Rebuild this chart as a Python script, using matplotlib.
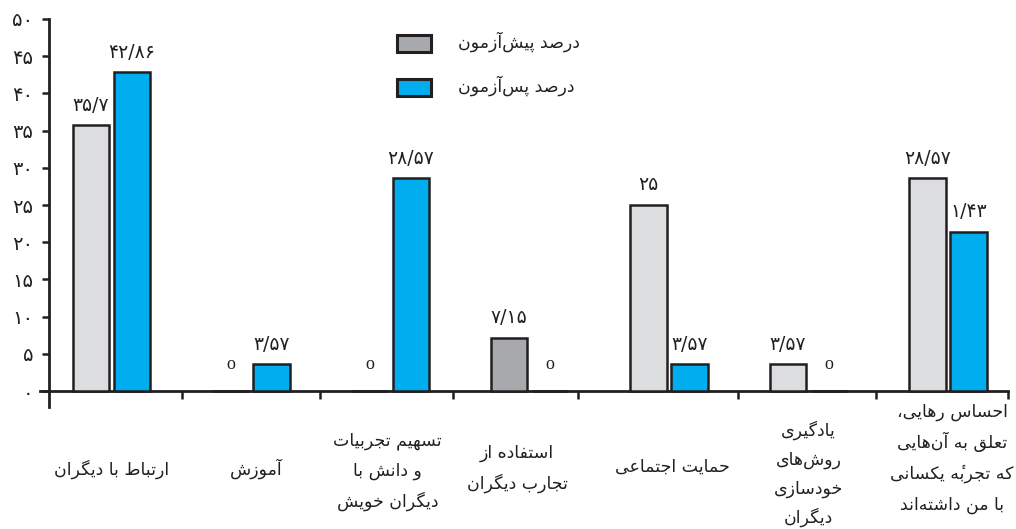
import matplotlib
matplotlib.use("Agg")
import matplotlib.pyplot as plt
from matplotlib.patches import Rectangle
from matplotlib.transforms import blended_transform_factory
import numpy as np

# ---------------- data ----------------
categories = [
    "ارتباط با دیگران",
    "آموزش",
    "تسهیم تجربیات\nو دانش با\nدیگران خویش",
    "استفاده از\nتجارب دیگران",
    "حمایت اجتماعی",
    "یادگیری\nروش‌های\nخودسازی\nدیگران",
    "احساس رهایی،\nتعلق به آن‌هایی\nکه تجربهٔ یکسانی\nبا من داشته‌اند",
]
pre_test = [35.7, 0, 0, 7.15, 25, 3.57, 28.57]
post_test = [42.86, 3.57, 28.57, 0, 3.57, 0, 21.43]
pre_labels = ["۳۵/۷", "o", "o", "۷/۱۵", "۲۵", "۳/۵۷", "۲۸/۵۷"]
post_labels = ["۴۲/۸۶", "۳/۵۷", "۲۸/۵۷", "o", "۳/۵۷", "o", "۱/۴۳"]
y_ticks = [0, 5, 10, 15, 20, 25, 30, 35, 40, 45, 50]
y_tick_labels = ["۰", "۵", "۱۰", "۱۵", "۲۰", "۲۵", "۳۰", "۳۵", "۴۰", "۴۵", "۵۰"]
legend_labels = ["درصد پیش‌آزمون", "درصد پس‌آزمون"]

# ---------------- minimal Persian shaping ----------------
FORMS = {
    "\u0627": ("\uFE8D", "\uFE8E", None, None),
    "\u0622": ("\uFE81", "\uFE82", None, None),
    "\u0628": ("\uFE8F", "\uFE90", "\uFE91", "\uFE92"),
    "\u067E": ("\uFB56", "\uFB57", "\uFB58", "\uFB59"),
    "\u062A": ("\uFE95", "\uFE96", "\uFE97", "\uFE98"),
    "\u062B": ("\uFE99", "\uFE9A", "\uFE9B", "\uFE9C"),
    "\u062C": ("\uFE9D", "\uFE9E", "\uFE9F", "\uFEA0"),
    "\u0686": ("\uFB7A", "\uFB7B", "\uFB7C", "\uFB7D"),
    "\u062D": ("\uFEA1", "\uFEA2", "\uFEA3", "\uFEA4"),
    "\u062E": ("\uFEA5", "\uFEA6", "\uFEA7", "\uFEA8"),
    "\u062F": ("\uFEA9", "\uFEAA", None, None),
    "\u0630": ("\uFEAB", "\uFEAC", None, None),
    "\u0631": ("\uFEAD", "\uFEAE", None, None),
    "\u0632": ("\uFEAF", "\uFEB0", None, None),
    "\u0698": ("\uFB8A", "\uFB8B", None, None),
    "\u0633": ("\uFEB1", "\uFEB2", "\uFEB3", "\uFEB4"),
    "\u0634": ("\uFEB5", "\uFEB6", "\uFEB7", "\uFEB8"),
    "\u0635": ("\uFEB9", "\uFEBA", "\uFEBB", "\uFEBC"),
    "\u0636": ("\uFEBD", "\uFEBE", "\uFEBF", "\uFEC0"),
    "\u0637": ("\uFEC1", "\uFEC2", "\uFEC3", "\uFEC4"),
    "\u0638": ("\uFEC5", "\uFEC6", "\uFEC7", "\uFEC8"),
    "\u0639": ("\uFEC9", "\uFECA", "\uFECB", "\uFECC"),
    "\u063A": ("\uFECD", "\uFECE", "\uFECF", "\uFED0"),
    "\u0641": ("\uFED1", "\uFED2", "\uFED3", "\uFED4"),
    "\u0642": ("\uFED5", "\uFED6", "\uFED7", "\uFED8"),
    "\u06A9": ("\uFB8E", "\uFB8F", "\uFB90", "\uFB91"),
    "\u06AF": ("\uFB92", "\uFB93", "\uFB94", "\uFB95"),
    "\u0644": ("\uFEDD", "\uFEDE", "\uFEDF", "\uFEE0"),
    "\u0645": ("\uFEE1", "\uFEE2", "\uFEE3", "\uFEE4"),
    "\u0646": ("\uFEE5", "\uFEE6", "\uFEE7", "\uFEE8"),
    "\u0647": ("\uFEE9", "\uFEEA", "\uFEEB", "\uFEEC"),
    "\u0648": ("\uFEED", "\uFEEE", None, None),
    "\u06CC": ("\uFBFC", "\uFBFD", "\uFBFE", "\uFBFF"),
    "\u0626": ("\uFE89", "\uFE8A", "\uFE8B", "\uFE8C"),
}
MARKS = {"\u0654"}


def shape(line):
    # group into clusters (base + following marks); ZWNJ breaks joining and is dropped
    seq = []
    for c in line:
        if c in MARKS and seq:
            seq[-1][1] += c
        else:
            seq.append([c, ""])
    n = len(seq)
    clusters = []
    for i, (c, marks) in enumerate(seq):
        if c == "\u200c":
            continue
        if c not in FORMS:
            clusters.append(c + marks)
            continue
        prev = seq[i - 1][0] if i > 0 else None
        nxt = seq[i + 1][0] if i + 1 < n else None
        jp = prev in FORMS and FORMS[prev][2] is not None
        jn = nxt in FORMS and FORMS[c][2] is not None
        iso, fin, ini, med = FORMS[c]
        if jp and jn:
            g = med
        elif jp:
            g = fin
        elif jn:
            g = ini
        else:
            g = iso
        clusters.append(g + marks)
    return "".join(reversed(clusters))


# ---------------- figure ----------------
W, H = 1016, 529
fig = plt.figure(figsize=(W / 100, H / 100), dpi=100)
ax = fig.add_axes([40 / W, (H - 407) / H, 968 / W, 388 / H])

TXT = "#231F20"
GRAY_LIGHT = "#DCDDDF"
GRAY_DARK = "#A7A9AC"
BLUE = "#00AEEF"
FONT = ["DejaVu Sans"]

x = np.arange(len(categories))
bw = 0.262
off = 0.147
pre_colors = [GRAY_LIGHT, GRAY_LIGHT, GRAY_LIGHT, GRAY_DARK, GRAY_LIGHT, GRAY_LIGHT, GRAY_LIGHT]

ax.bar(x - off, pre_test, width=bw, color=pre_colors, edgecolor=TXT, linewidth=1.8, zorder=3)
ax.bar(x + off, post_test, width=bw, color=BLUE, edgecolor=TXT, linewidth=1.8, zorder=3)

for xs, vals, labs in ((x - off, pre_test, pre_labels), (x + off, post_test, post_labels)):
    for xi, v, lab in zip(xs, vals, labs):
        if lab == "o":
            ax.annotate(lab, xy=(xi, v), xytext=(0, 15.8), textcoords="offset points",
                        ha="center", va="baseline", fontsize=13, color=TXT,
                        family="Liberation Serif")
        else:
            ax.annotate(lab, xy=(xi, v), xytext=(0, 10.5), textcoords="offset points",
                        ha="center", va="baseline", fontsize=13.5, color=TXT, family=FONT)

ax.set_xlim(-0.513, 6.431)
ax.set_ylim(-2.15, 50)
for s in ("top", "right"):
    ax.spines[s].set_visible(False)
ax.spines["left"].set_position(("data", -0.448))
ax.spines["bottom"].set_position(("data", 0))
for s in ("left", "bottom"):
    ax.spines[s].set_linewidth(2.0)
    ax.spines[s].set_color(TXT)

ax.set_yticks(y_ticks)
ax.set_yticklabels(y_tick_labels, fontsize=14, color=TXT, family=FONT)
ax.tick_params(axis="y", direction="out", length=5, width=1.8, color=TXT, pad=6.5)
ax.set_xticks([0.506, 1.496, 2.450, 3.346, 4.494, 5.484, 6.431])
ax.set_xticklabels([])
ax.tick_params(axis="x", direction="out", length=5.5, width=1.8, color=TXT)

# category labels
label_dx = [0.0, 0.04, -0.02, -0.09, 0.02, 0.0, 0.03]
first_baseline = [475, 475, 445, 458, 472, 436, 417]
line_gap = [31, 31, 31, 31, 31, 29, 31]
trans = blended_transform_factory(ax.transData, fig.transFigure)
for i, cat in enumerate(categories):
    for j, line in enumerate(cat.split("\n")):
        yb = first_baseline[i] + j * line_gap[i]
        ax.text(x[i] + label_dx[i], 1 - yb / H, shape(line), transform=trans,
                ha="center", va="baseline", fontsize=12.5, color=TXT, family=FONT,
                clip_on=False)

# legend
leg_colors = [GRAY_DARK, BLUE]
leg_y = [34, 78]
for lab, col, yt in zip(legend_labels, leg_colors, leg_y):
    fig.add_artist(Rectangle((397 / W, 1 - (yt + 18) / H), 34 / W, 17 / H,
                             transform=fig.transFigure, facecolor=col,
                             edgecolor=TXT, linewidth=2.2))
    fig.text(458 / W, 1 - (yt + 14) / H, shape(lab), ha="left", va="baseline",
             fontsize=12.5, color=TXT, family=FONT)

fig.savefig("out.png", dpi=100)
